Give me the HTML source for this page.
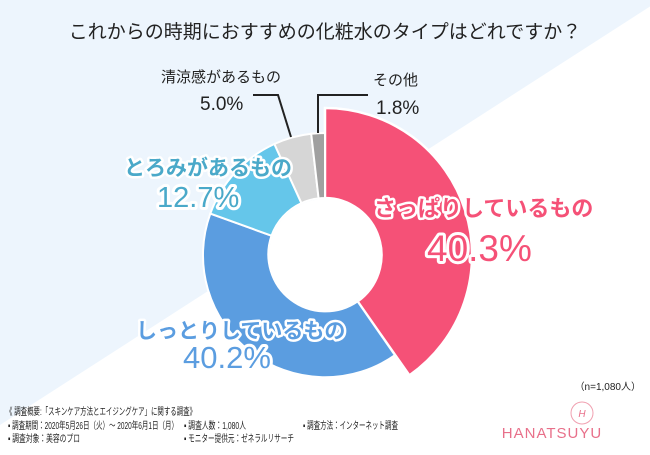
<!DOCTYPE html>
<html><head><meta charset="utf-8"><style>
body{margin:0;background:#fff}
svg text{font-family:"Liberation Sans","Noto Sans CJK JP",sans-serif}
</style></head><body>
<svg width="650" height="450" viewBox="0 0 650 450">
<rect width="650" height="450" fill="#fff"/>
<polygon points="0,0 660,0 0,425" fill="#edf5fd"/>
<text x="325" y="38" text-anchor="middle" font-size="19" fill="#222">これからの時期におすすめの化粧水のタイプはどれですか？</text>
<g stroke="#fff" stroke-width="2">
<path d="M325,108 A147,147 0 0 1 409.4,375.4 L357.6,301.4 A57,57 0 0 0 325,198 Z" fill="#f55177" stroke-width="2.5"/>
<path d="M394.9,355.2 A122,122 0 0 1 210.3,213.6 L271.5,235.7 A57,57 0 0 0 357.6,301.4 Z" fill="#5b9de0"/>
<path d="M210.3,213.6 A122,122 0 0 1 274.4,144 L301.4,203.1 A57,57 0 0 0 271.5,235.7 Z" fill="#65c6ea"/>
<path d="M274.4,144 A122,122 0 0 1 311.2,133.8 L318.6,198.4 A57,57 0 0 0 301.4,203.1 Z" fill="#d6d6d6"/>
<path d="M311.2,133.8 A122,122 0 0 1 325,133 L325,198 A57,57 0 0 0 318.6,198.4 Z" fill="#a0a0a0"/>
</g>
<circle cx="325" cy="255" r="56" fill="#fff"/>
<polyline points="253,95 278,95 291,137" fill="none" stroke="#222" stroke-width="2"/>
<polyline points="368,95 318,95 318,133" fill="none" stroke="#222" stroke-width="2"/>
<g font-size="15" fill="#222"><text x="161" y="82">清涼感があるもの</text><text x="373" y="85">その他</text></g>
<g font-size="19" fill="#222"><text x="200" y="110">5.0%</text><text x="376" y="114">1.8%</text></g>
<g stroke="#fff" stroke-width="5" stroke-linejoin="round" paint-order="stroke">
<text x="124" y="175" font-size="21" font-weight="bold" fill="#4aa9c9">とろみがあるもの</text>
<text x="157" y="207" font-size="29" fill="#4aa9c9" stroke-width="6">12.7%</text>
<text x="374" y="216" font-size="22" font-weight="bold" fill="#f55177">さっぱりしているもの</text>
<text x="427" y="261" font-size="37" fill="#f55177" stroke-width="6">40.3%</text>
<text x="136" y="338" font-size="21" font-weight="bold" fill="#5b9de0">しっとりしているもの</text>
<text x="183" y="368" font-size="31" fill="#5b9de0" stroke-width="6">40.2%</text>
</g>
<text x="641" y="390" text-anchor="end" font-size="10" fill="#222">（n=1,080人）</text>
<g font-size="10" fill="#222">
<text x="6" y="415" textLength="190" lengthAdjust="spacingAndGlyphs">《 調査概要:「スキンケア方法とエイジングケア」に関する調査》</text>
<text x="8" y="429" textLength="170" lengthAdjust="spacingAndGlyphs">▪ 調査期間：2020年5月26日（火）～ 2020年6月1日（月）</text>
<text x="184" y="429" textLength="62" lengthAdjust="spacingAndGlyphs">▪ 調査人数：1,080人</text>
<text x="303" y="429" textLength="95" lengthAdjust="spacingAndGlyphs">▪ 調査方法：インターネット調査</text>
<text x="8" y="442" textLength="72" lengthAdjust="spacingAndGlyphs">▪ 調査対象：美容のプロ</text>
<text x="184" y="442" textLength="110" lengthAdjust="spacingAndGlyphs">▪ モニター提供元：ゼネラルリサーチ</text>
</g>
<circle cx="582" cy="413" r="11" fill="none" stroke="#f0a0b0" stroke-width="1"/>
<text x="582" y="417" text-anchor="middle" font-size="10" font-style="italic" fill="#e8708a">H</text>
<text x="552" y="438" font-size="15" letter-spacing="1" fill="#e8708a" text-anchor="middle">HANATSUYU</text>
</svg>
</body></html>
